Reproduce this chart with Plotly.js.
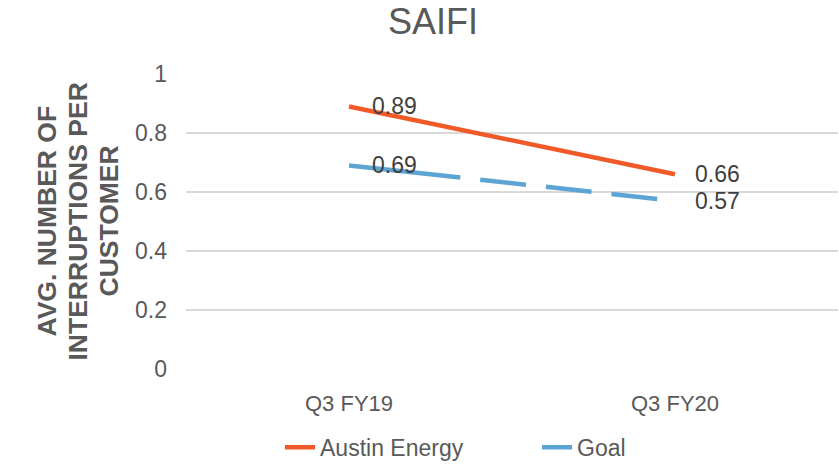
<!DOCTYPE html>
<html>
<head>
<meta charset="utf-8">
<script src="https://cdn.plot.ly/plotly-3.0.1.min.js"></script>
<style>html,body{margin:0;padding:0;background:#fff;}#chart{width:839px;height:466px;}</style>
</head>
<body>
<div id="chart"></div>
<script>
const categories = ["Q3 FY19", "Q3 FY20"];
const austinEnergy = [0.89, 0.66];
const goal = [0.69, 0.57];
const seriesNames = ["Austin Energy", "Goal"];
const yTickVals = [0, 0.2, 0.4, 0.6, 0.8, 1];
const yTickText = ["0", "0.2", "0.4", "0.6", "0.8", "1"];
const yTitleLines = ["AVG. NUMBER OF", "INTERRUPTIONS PER", "CUSTOMER"];

const grey = "#595959";
const fontFam = "Liberation Sans, Arial, sans-serif";

const traces = [
  {
    x: categories, y: austinEnergy, name: seriesNames[0],
    type: "scatter", mode: "lines",
    line: {color: "#F05A28", width: 4.5},
    hoverinfo: "skip"
  },
  {
    x: categories, y: goal, name: seriesNames[1],
    type: "scatter", mode: "lines",
    line: {color: "#5BA4D4", width: 4.5, dash: "112px,20px,46px,20px,46px,20px,46px,40px"},
    hoverinfo: "skip"
  }
];

const annotations = [];
[austinEnergy, goal].forEach(function (series) {
  series.forEach(function (v, i) {
    annotations.push({
      x: categories[i], y: v, xref: "x", yref: "y",
      text: v.toFixed(2), showarrow: false,
      xanchor: "left", yanchor: "middle", xshift: i === 0 ? 21 : 18,
      font: {family: fontFam, size: 23, color: "#404040"}
    });
  });
});

// y-axis title, three bold rotated lines (tight line spacing as in reference)
const plotLeft = 186, plotWidth = 652;
const titleLineX = [46, 77, 108];
yTitleLines.forEach(function (t, k) {
  annotations.push({
    text: "<b>" + t + "</b>", showarrow: false, textangle: -90,
    xref: "paper", yref: "paper",
    x: (titleLineX[k] - plotLeft) / plotWidth, y: 0.5,
    xanchor: "center", yanchor: "middle",
    font: {family: fontFam, size: 26.5, color: grey}
  });
});

const layout = {
  width: 839, height: 466,
  margin: {l: 186, r: 1, t: 74, b: 97},
  paper_bgcolor: "#fff", plot_bgcolor: "#fff",
  font: {family: fontFam, color: grey},
  title: {
    text: "SAIFI", x: 0.516, xanchor: "center", y: 0.955, yanchor: "middle",
    font: {family: fontFam, size: 36, color: grey}
  },
  xaxis: {
    type: "category", range: [-0.5, 1.5],
    showgrid: false, zeroline: false, showline: false, ticks: "",
    tickfont: {family: fontFam, size: 22, color: grey},
    ticklabelstandoff: 19
  },
  yaxis: {
    range: [0, 1], tickvals: yTickVals, ticktext: yTickText,
    showgrid: true, gridcolor: "#d9d9d9", gridwidth: 1.3,
    zeroline: false, showline: false, ticks: "",
    tickfont: {family: fontFam, size: 23, color: grey},
    ticklabelstandoff: 18,
    automargin: false
  },
  legend: {
    orientation: "h", x: 280 / 839, xanchor: "left", xref: "container",
    y: 0.04, yanchor: "middle", yref: "container",
    font: {family: fontFam, size: 23, color: grey},
    entrywidth: 212, entrywidthmode: "pixels"
  },
  annotations: annotations,
  showlegend: true
};

Plotly.newPlot("chart", traces, layout, {staticPlot: true, displayModeBar: false});
</script>
</body>
</html>
